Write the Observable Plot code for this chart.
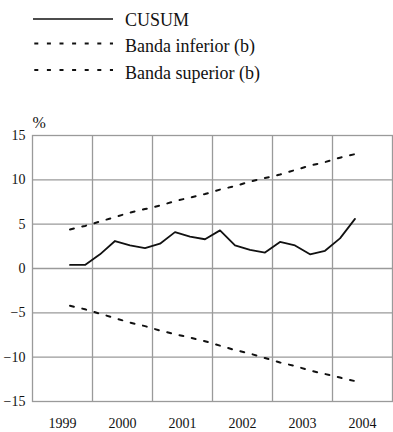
<!DOCTYPE html>
<html>
<head>
<meta charset="utf-8">
<script src="https://cdn.jsdelivr.net/npm/d3@7"></script>
<script src="https://cdn.jsdelivr.net/npm/@observablehq/plot@0.6"></script>
<style>
  html, body { margin: 0; padding: 0; background: #fff; }
  #legend { display: block; }
  #chart svg { display: block; }
</style>
</head>
<body>
<svg id="legend" width="393" height="95"></svg>
<div id="chart"></div>
<script>
// Quarterly observations, 1999 Q3 .. 2004 Q2
const quarters = ["1999-3","1999-4","2000-1","2000-2","2000-3","2000-4","2001-1","2001-2","2001-3","2001-4",
                  "2002-1","2002-2","2002-3","2002-4","2003-1","2003-2","2003-3","2003-4","2004-1","2004-2"];
const cusum = [0.4, 0.4, 1.6, 3.1, 2.6, 2.3, 2.8, 4.1, 3.6, 3.3, 4.3, 2.6, 2.1, 1.8, 3.0, 2.6, 1.6, 2.0, 3.4, 5.6];
const bandaInferior = [-4.2, -4.6, -5.1, -5.6, -6.1, -6.5, -7.0, -7.4, -7.8, -8.2, -8.7, -9.2, -9.6, -10.1, -10.6, -11.0, -11.5, -11.9, -12.3, -12.7];
const bandaSuperior = [4.4, 4.8, 5.3, 5.8, 6.3, 6.7, 7.1, 7.6, 8.0, 8.4, 8.9, 9.3, 9.8, 10.2, 10.6, 11.1, 11.6, 12.0, 12.5, 12.9];
const years = [1999, 2000, 2001, 2002, 2003, 2004];
const yTicks = [-15, -10, -5, 0, 5, 10, 15];
const seriesNames = ["CUSUM", "Banda inferior (b)", "Banda superior (b)"];

// pick an installed serif face
function hasFont(name) {
  const c = document.createElement("canvas").getContext("2d");
  const s = "mmmmmmmmmmlliWW0123";
  c.font = "40px monospace"; const a = c.measureText(s).width;
  c.font = `40px "${name}", monospace`; const b = c.measureText(s).width;
  c.font = "40px sans-serif"; const a2 = c.measureText(s).width;
  c.font = `40px "${name}", sans-serif`; const b2 = c.measureText(s).width;
  return a !== b || a2 !== b2;
}
const candidates = ["Liberation Serif", "Times New Roman", "DejaVu Serif", "Noto Serif", "Tinos", "Times"];
const serifName = candidates.find(hasFont) || "serif";
const FONT = `"${serifName}", serif`;
const DASH = "4,8.6";

const t = quarters.map(q => { const [y, k] = q.split("-").map(Number); return y + (k - 0.5) / 4; });
const rows = (vals) => vals.map((v, i) => ({x: t[i], y: v}));

// Legend
const leg = d3.select("#legend").style("font-family", FONT);
seriesNames.forEach((name, i) => {
  const ly = [19, 43.5, 70][i];
  const ty = [26, 52, 79][i];
  const l = leg.append("line").attr("x1", 33).attr("x2", 113).attr("y1", ly).attr("y2", ly)
    .attr("stroke", "#111").attr("stroke-width", i === 0 ? 1.6 : 2);
  if (i > 0) l.attr("x1", 34.3).attr("stroke-dasharray", DASH);
  leg.append("text").attr("x", 125).attr("y", ty).text(name)
    .style("font-family", FONT).attr("font-size", 18).attr("fill", "#111");
});

const chart = Plot.plot({
  width: 393,
  height: 337,
  marginTop: 40,
  marginBottom: 31,
  marginLeft: 32,
  marginRight: 1,
  style: {fontFamily: FONT, fontSize: "14px", color: "#111", background: "#fff"},
  x: {domain: [1999, 2005]},
  y: {domain: [-15, 15]},
  marks: [
    Plot.gridX(years.slice(1), {stroke: "#9a9a9a", strokeOpacity: 1, strokeWidth: 1.3}),
    Plot.gridY(yTicks.slice(1, -1), {stroke: "#9a9a9a", strokeOpacity: 1, strokeWidth: 1.3}),
    Plot.frame({stroke: "#9a9a9a", strokeWidth: 1.3}),
    Plot.axisY(yTicks, {tickSize: 0, tickPadding: 7, label: null, fontSize: 14}),
    Plot.axisX(years.map(y => y + 0.5), {tickSize: 0, tickPadding: 17, label: null, fontSize: 14,
      tickFormat: d => String(Math.floor(d))}),
    Plot.text(["%"], {frameAnchor: "top-left", dy: -19, textAnchor: "start", fontSize: 16, fill: "#111"}),
    Plot.line(rows(bandaSuperior), {x: "x", y: "y", stroke: "#111", strokeWidth: 2, strokeDasharray: DASH}),
    Plot.line(rows(bandaInferior), {x: "x", y: "y", stroke: "#111", strokeWidth: 2, strokeDasharray: DASH}),
    Plot.line(rows(cusum), {x: "x", y: "y", stroke: "#111", strokeWidth: 1.8})
  ]
});
chart.querySelectorAll("text").forEach(n => n.style.fontFamily = FONT);
document.getElementById("chart").appendChild(chart);
</script>
</body>
</html>
